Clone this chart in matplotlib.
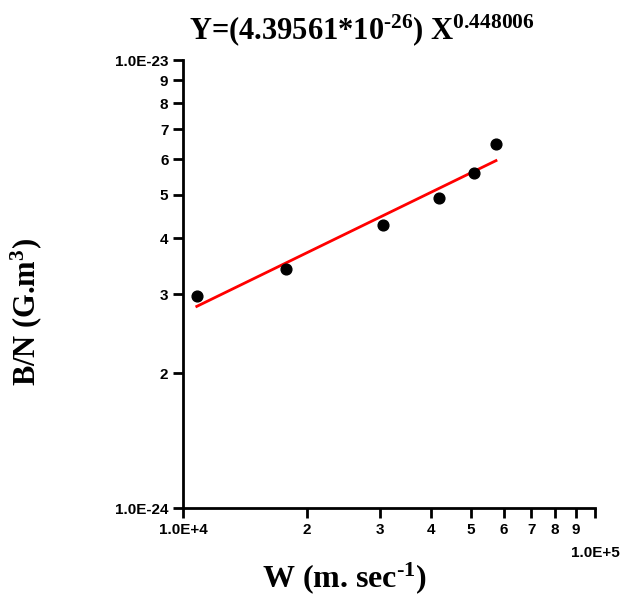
import matplotlib
matplotlib.use("Agg")
import matplotlib.pyplot as plt
import numpy as np
from matplotlib.ticker import FixedLocator, NullLocator

x_vals = [1.08e4, 1.78e4, 3.06e4, 4.18e4, 5.08e4, 5.75e4]
y_vals = [2.97e-24, 3.42e-24, 4.28e-24, 4.92e-24, 5.59e-24, 6.49e-24]
coef = 4.39561e-26
expo = 0.448006

plt.rcParams['font.family'] = 'Liberation Serif'
plt.rcParams['font.weight'] = 'bold'
plt.rcParams['mathtext.fontset'] = 'custom'
plt.rcParams['mathtext.rm'] = 'Liberation Serif:bold'
plt.rcParams['mathtext.bf'] = 'Liberation Serif:bold'
plt.rcParams['mathtext.default'] = 'bf'
fig = plt.figure(figsize=(6.31, 6.09), dpi=100)
W, H = 631, 609
ax = fig.add_axes([183/W, 1-508/H, (595-183)/W, (508-60)/H])
ax.set_xscale('log'); ax.set_yscale('log')
ax.set_xlim(1e4, 1e5); ax.set_ylim(1e-24, 1e-23)
xf = np.linspace(x_vals[0], x_vals[-1], 100)
ax.plot(xf, coef*xf**expo, color='red', lw=2)
ax.scatter(x_vals, y_vals, s=60, color='black', zorder=3)
for s in ['top', 'right']:
    ax.spines[s].set_visible(False)
for s in ['left', 'bottom']:
    ax.spines[s].set_linewidth(2)
xt = [1e4] + [k*1e4 for k in range(2, 10)] + [1e5]
ax.xaxis.set_major_locator(FixedLocator(xt)); ax.xaxis.set_minor_locator(NullLocator())
ax.set_xticklabels(['1.0E+4'] + [str(k) for k in range(2, 10)] + [''])
ax.text(1e5, -0.085, '1.0E+5', transform=ax.get_xaxis_transform(), ha='center', va='top',
        fontfamily='Liberation Sans', fontweight='bold', fontsize=11)
yt = [1e-24] + [k*1e-24 for k in range(2, 10)] + [1e-23]
ax.yaxis.set_major_locator(FixedLocator(yt)); ax.yaxis.set_minor_locator(NullLocator())
ax.set_yticklabels(['1.0E-24'] + [str(k) for k in range(2, 10)] + ['1.0E-23'])
for lab in ax.get_xticklabels() + ax.get_yticklabels():
    lab.set_fontfamily('Liberation Sans'); lab.set_fontweight('bold'); lab.set_fontsize(11)
ax.tick_params(width=2, length=7, direction='out')
fig.text(345/W, 1-578/H, 'W (m. sec$^{\\text{-1}}$)', fontsize=23, fontweight='bold', ha='center', va='center')
fig.text(26/W, 1-312/H, 'B/N (G.m$^{3}$)', fontsize=22, fontweight='bold', ha='center', va='center', rotation=90)
fig.text(362/W, 1-30/H, 'Y=(4.39561*10$^{\\text{-26}}$) X$^{0.448006}$', fontsize=22, fontweight='bold', ha='center', va='center')
fig.savefig('out.png', dpi=100)
